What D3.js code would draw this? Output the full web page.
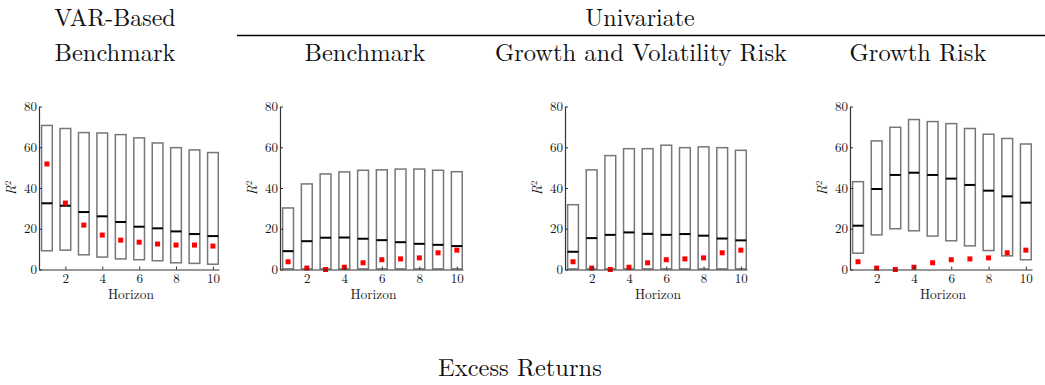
<!DOCTYPE html>
<html>
<head>
<meta charset="utf-8">
<script src="https://cdn.jsdelivr.net/npm/d3@7"></script>
<style>
  body { margin: 0; background: #fff; }
  svg { display: block; }
</style>
</head>
<body>
<svg id="chart" width="1045" height="385"></svg>
<script>
// ---------------- data ----------------
const horizons = [1, 2, 3, 4, 5, 6, 7, 8, 9, 10];
const yTicks = [0, 20, 40, 60, 80];
const xTicks = [2, 4, 6, 8, 10];

// VAR-Based benchmark
const varTop = [70.7, 69.2, 67.2, 67.0, 66.2, 64.6, 62.1, 59.8, 58.7, 57.4];
const varBot = [9.2, 9.5, 7.2, 6.1, 5.2, 4.8, 4.3, 3.3, 3.0, 2.6];
const varMed = [32.5, 31.3, 28.2, 26.1, 23.3, 21.0, 20.2, 18.7, 17.4, 16.4];
const varReal = [51.8, 32.6, 21.8, 16.9, 14.4, 13.4, 12.5, 12.0, 12.0, 11.5];

// Univariate benchmark
const ubTop = [30.2, 42.0, 46.9, 47.9, 48.7, 48.9, 49.3, 49.3, 48.7, 48.0];
const ubBot = [0.3, 0.3, 0.3, 0.3, 0.3, 0.3, 0.3, 0.3, 0.3, 0.3];
const ubMed = [9.0, 13.9, 15.6, 15.7, 15.1, 14.4, 13.4, 12.6, 12.1, 11.5];

// Univariate growth and volatility risk
const gvTop = [31.8, 48.9, 55.9, 59.3, 59.3, 61.0, 59.8, 60.2, 59.8, 58.5];
const gvBot = [0.3, 0.3, 0.3, 0.3, 0.3, 0.3, 0.3, 0.3, 0.3, 0.3];
const gvMed = [8.7, 15.4, 17.0, 18.2, 17.5, 17.0, 17.4, 16.6, 15.2, 14.3];

// Univariate growth risk
const grTop = [43.1, 63.1, 69.8, 73.6, 72.6, 71.6, 69.2, 66.4, 64.3, 61.6];
const grBot = [8.0, 17.0, 20.0, 19.0, 16.4, 14.1, 11.6, 9.3, 6.7, 4.8];
const grMed = [21.5, 39.5, 46.4, 47.5, 46.4, 44.6, 41.5, 38.7, 35.9, 32.8];

// realized univariate R^2 (red squares)
const uniReal = [3.8, 0.7, 0.0, 1.1, 3.3, 4.8, 5.2, 5.7, 8.2, 9.5];

const groupTitles = ["VAR-Based", "Univariate"];
const panelTitles = ["Benchmark", "Benchmark", "Growth and Volatility Risk", "Growth Risk"];
const xLabel = "Horizon";
const bottomTitle = "Excess Returns";

// ---------------- layout ----------------
const svg = d3.select("#chart");
const serifFont = "'Latin Modern Roman','CMU Serif','Liberation Serif',serif";
const titleSize = 24.5;

const panels = [
  { x0: 39,  x1: 219,  top: varTop, bot: varBot, med: varMed, real: varReal },
  { x0: 280, x1: 463,  top: ubTop,  bot: ubBot,  med: ubMed,  real: uniReal },
  { x0: 565, x1: 747,  top: gvTop,  bot: gvBot,  med: gvMed,  real: uniReal },
  { x0: 850, x1: 1032, top: grTop,  bot: grBot,  med: grMed,  real: uniReal }
];
const yBottom = 269.5, yTop = 106.5;
const titleCenters = [115, 365, 641, 918];

panels.forEach((p, pi) => {
  const x = d3.scaleLinear().domain([0.57, 10.33]).range([p.x0, p.x1]);
  const y = d3.scaleLinear().domain([0, 80]).range([yBottom, yTop]);
  const g = svg.append("g");
  const bw = x(1.58) - x(1);

  // boxes
  g.selectAll("rect.box").data(horizons).enter().append("rect")
    .attr("class", "box")
    .attr("x", (d) => x(d) - bw / 2)
    .attr("width", bw)
    .attr("y", (d, i) => y(p.top[i]))
    .attr("height", (d, i) => y(p.bot[i]) - y(p.top[i]))
    .attr("fill", "none")
    .attr("stroke", "#777")
    .attr("stroke-width", 1.5);

  // medians
  g.selectAll("line.med").data(horizons).enter().append("line")
    .attr("x1", (d) => x(d) - bw / 2)
    .attr("x2", (d) => x(d) + bw / 2)
    .attr("y1", (d, i) => y(p.med[i]))
    .attr("y2", (d, i) => y(p.med[i]))
    .attr("stroke", "#000")
    .attr("stroke-width", 2);

  // red squares
  const s = 5;
  g.selectAll("rect.real").data(horizons).enter().append("rect")
    .attr("x", (d) => x(d) - s / 2)
    .attr("y", (d, i) => y(p.real[i]) - s / 2)
    .attr("width", s).attr("height", s)
    .attr("fill", "#ff0000");

  // axes
  const ya = g.append("g").attr("transform", `translate(${p.x0},0)`)
    .call(d3.axisLeft(y).tickValues(yTicks).tickSizeInner(-3).tickSizeOuter(0).tickPadding(2));
  const xa = g.append("g").attr("transform", `translate(0,${yBottom})`)
    .call(d3.axisBottom(x).tickValues(xTicks).tickSizeInner(-3).tickSizeOuter(0).tickPadding(4.5));
  [ya, xa].forEach(a => {
    a.attr("font-family", serifFont).attr("font-size", 13);
    a.select(".domain").attr("stroke", "#333").attr("stroke-width", 1.2);
    a.selectAll(".tick line").attr("stroke", "#333");
    a.selectAll("text").attr("font-family", serifFont).attr("font-size", 13).attr("fill", "#111");
  });

  // x label
  g.append("text").attr("x", (p.x0 + p.x1) / 2 + 2).attr("y", 298.5)
    .attr("text-anchor", "middle").attr("font-family", serifFont).attr("font-size", 13.5)
    .attr("fill", "#222").text(xLabel);

  // y label R^2
  const yl = g.append("text")
    .attr("transform", `translate(${p.x0 - 23},${y(40)}) rotate(-90)`)
    .attr("text-anchor", "middle").attr("font-family", serifFont).attr("font-size", 13.5)
    .attr("font-style", "italic").attr("fill", "#111");
  yl.append("tspan").text("R");
  yl.append("tspan").attr("font-size", 9).attr("font-style", "normal").attr("dy", -5).text("2");

  // panel title
  svg.append("text").attr("x", titleCenters[pi]).attr("y", 61)
    .attr("text-anchor", "middle").attr("font-family", serifFont).attr("font-size", titleSize)
    .attr("fill", "#111").text(panelTitles[pi]);
});

// group titles
svg.append("text").attr("x", 115).attr("y", 25.5).attr("text-anchor", "middle")
  .attr("font-family", serifFont).attr("font-size", 24).attr("fill", "#111").text(groupTitles[0]);
svg.append("text").attr("x", 640).attr("y", 25.5).attr("text-anchor", "middle")
  .attr("font-family", serifFont).attr("font-size", 24).attr("fill", "#111").text(groupTitles[1]);
svg.append("line").attr("x1", 237).attr("x2", 1045).attr("y1", 35.5).attr("y2", 35.5)
  .attr("stroke", "#000").attr("stroke-width", 1.3);

svg.append("text").attr("x", 520).attr("y", 376).attr("text-anchor", "middle")
  .attr("font-family", serifFont).attr("font-size", titleSize).attr("fill", "#111").text(bottomTitle);
</script>
</body>
</html>
